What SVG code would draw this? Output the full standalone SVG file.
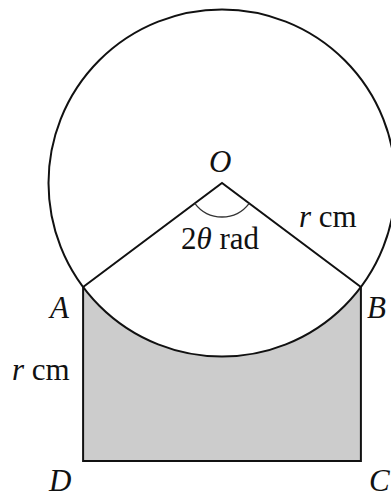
<svg xmlns="http://www.w3.org/2000/svg" width="391" height="499" viewBox="0 0 391 499">
<style>
.ln{fill:none;stroke:#111;stroke-width:2;stroke-linejoin:miter}
.t{font-family:"Liberation Serif","Times New Roman",serif;font-size:31px;fill:#111}
.i{font-style:italic}
</style>
<rect width="391" height="499" fill="#fff"/>
<g id="shaded">
<path d="M83.1,287 L83.1,461 L360.9,461 L360.9,287 A173.5,173.5 0 0 1 83.1,287 Z" fill="#cccccc" stroke="none"/>
</g>
<g id="circle">
<circle cx="222" cy="183" r="173.5" class="ln" stroke-width="1.8"/>
</g>
<g id="rectangle">
<path d="M83.1,287 L83.1,461 L360.9,461 L360.9,287" class="ln"/>
</g>
<g id="connectors">
<path d="M83.1,287 L222,183 L360.9,287" class="ln"/>
<path d="M194.8,203.4 A34,34 0 0 0 249.2,203.4" fill="none" stroke="#333" stroke-width="1.3"/>
</g>
<g id="labels">
<text class="t i" x="209" y="172">O</text>
<text class="t" x="181" y="249">2<tspan class="i">θ</tspan> rad</text>
<text class="t" x="299" y="227"><tspan class="i">r</tspan> cm</text>
<text class="t i" x="50" y="318">A</text>
<text class="t i" x="367" y="318">B</text>
<text class="t" x="12" y="380"><tspan class="i">r</tspan> cm</text>
<text class="t i" x="49" y="491">D</text>
<text class="t i" x="369" y="491">C</text>
</g>
</svg>
